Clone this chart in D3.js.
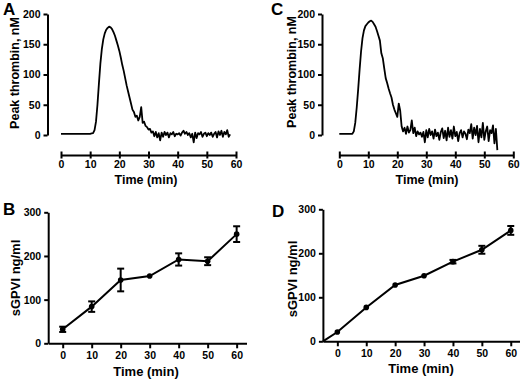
<!DOCTYPE html>
<html>
<head>
<meta charset="utf-8">
<script src="https://cdn.jsdelivr.net/npm/d3@7"></script>
<style>
  body { margin: 0; background: #fff; }
  svg text { font-family: "Liberation Sans", Arial, sans-serif; font-weight: bold; fill: #000; }
</style>
</head>
<body>
<svg id="chart" width="520" height="380"></svg>
<script>
// thrombin generation traces, sampled every 0.5 min
const sampleStep = 0.5;
const thrombinA = [
  2, 2, 2, 2, 2, 2, 2, 2, 2, 2, 2, 2, 2, 2, 2, 2, 2, 2, 2, 2, 2,
  2.5, 3, 8, 22, 50, 85, 118, 142, 158, 168, 174, 177, 179, 178, 175, 170,
  164, 156, 148, 139, 128, 116, 106, 94, 82, 72, 62, 52, 42, 38, 30, 32,
  24, 30, 46, 20, 22, 15, 13, 9, 10, 4,
  6, -2, 5, -4, 3, -9, 4, -3, 5, 0, 4, -4, 3, 1, 5, -2, 2, 1, 3, -1,
  4, 7, 2, 5, 0, 3, -4, 2, -12, 4, -5, 3, 1, 5, -3, 2, 4, -2, 3, 0,
  4, -3, 2, 5, -4, 6, 0, 7, -3, 5, 1, 8, -3, 1
];
const thrombinC = [
  2, 2, 2, 2, 2, 2, 2, 2, 2, 2,
  6, 20, 45, 75, 108, 138, 160, 173, 180, 183, 186, 188, 189, 187, 183, 179,
  172, 164, 156, 135, 127, 110, 94, 86, 77, 69, 62, 50, 42, 36, 30, 52, 40,
  14, 6, 12, 2, 14, 4, 8, 24, 3, 12, -2, 6, 1, 4, -3, 5, -12, 8, -4, 10,
  0, 6, -6, 9, -2, 4, -8, 5, 11, -5, 7, -9, 12, -3, 8, -6, 14, -2, 5, -10,
  3, 8, -4, 6, 2, -7, 9, 3, 18, -6, 12, 0, 15, -12, 10, -4, 20, -8, 6, 14,
  -10, 8, 3, 16, -14, 10, -25
];
const thrombinTicks = [0, 10, 20, 30, 40, 50, 60];
const thrombinYTicks = [0, 50, 100, 150, 200];

// sGPVI release
const bTime = [0, 10, 20, 30, 40, 50, 60];
const bMean = [32, 84, 145, 154, 192, 188, 250];
const bErr = [6, 12, 26, 2, 14, 9, 18];

const dTime = [-5, 0, 10, 20, 30, 40, 50, 60];
const dMean = [0, 21, 77, 128, 149, 181, 208, 252];
const dErr = [0, 2, 2, 2, 2, 4, 9, 10];

const timeTicks = [0, 10, 20, 30, 40, 50, 60];
const sgpviTicks = [0, 100, 200, 300];

const svg = d3.select("#chart");

function letter(txt, x, y) {
  svg.append("text").attr("x", x).attr("y", y)
    .attr("font-size", 17).text(txt);
}

function styleAxis(g) {
  g.select(".domain").attr("stroke", "#000").attr("stroke-width", 2);
  g.selectAll(".tick line").attr("stroke", "#000").attr("stroke-width", 2);
  g.selectAll(".tick text").attr("font-size", 10.5)
    .attr("font-family", "Liberation Sans, Arial, sans-serif")
    .attr("font-weight", "bold");
}

function tracePanel(p) {
  const x = d3.scaleLinear().domain([0, 60]).range([p.x0, p.x1]);
  const y = d3.scaleLinear().domain([0, 200]).range([135, 14]);

  const xg = svg.append("g").attr("transform", "translate(0,155)")
    .call(d3.axisBottom(x).tickValues(thrombinTicks).tickSize(7).tickSizeOuter(0).tickPadding(1));
  styleAxis(xg);
  xg.selectAll(".tick line").attr("y1", -3.5).attr("y2", 3.5);
  xg.selectAll(".tick text").attr("y", 6);

  const yg = svg.append("g").attr("transform", `translate(${p.axisX},0)`)
    .call(d3.axisLeft(y).tickValues(thrombinYTicks).tickSize(4).tickSizeOuter(0).tickPadding(3));
  styleAxis(yg);

  svg.append("path")
    .datum(p.data)
    .attr("fill", "none").attr("stroke", "#000").attr("stroke-width", 1.8)
    .attr("stroke-linejoin", "round")
    .attr("d", d3.line().x((d, i) => x(i * sampleStep)).y(d => y(d)));

  svg.append("text").attr("x", p.labelX).attr("y", 184)
    .attr("text-anchor", "middle").attr("font-size", 12.5).text("Time (min)");
  svg.append("text")
    .attr("transform", `translate(${p.yLabelX},${p.yLabelY}) rotate(-90)`)
    .attr("text-anchor", "middle").attr("dy", "0.35em")
    .attr("font-size", 12.5).text("Peak thrombin, nM");
}

function sgpviPanel(p) {
  const x = d3.scaleLinear().domain(p.xDomain).range([p.x0, p.x1]);
  const y = d3.scaleLinear().domain([0, 300]).range([p.y0, p.y1]);

  const xg = svg.append("g").attr("transform", `translate(0,${p.y0})`)
    .call(d3.axisBottom(x).tickValues(timeTicks).tickSize(5).tickSizeOuter(0).tickPadding(3));
  styleAxis(xg);

  const yg = svg.append("g").attr("transform", `translate(${p.x0},0)`)
    .call(d3.axisLeft(y).tickValues(sgpviTicks).tickSize(4).tickSizeOuter(0).tickPadding(3));
  styleAxis(yg);

  const pts = p.time.map((t, i) => ({t: t, m: p.mean[i], e: p.err[i]}));

  svg.append("path").datum(pts)
    .attr("fill", "none").attr("stroke", "#000").attr("stroke-width", 2)
    .attr("d", d3.line().x(d => x(d.t)).y(d => y(d.m)));

  const shown = pts.filter(d => d.t >= 0);
  const eb = svg.append("g").attr("stroke", "#000").attr("stroke-width", 2);
  eb.selectAll(".bar").data(shown.filter(d => d.e > 2)).join("line")
    .attr("x1", d => x(d.t)).attr("x2", d => x(d.t))
    .attr("y1", d => y(d.m - d.e)).attr("y2", d => y(d.m + d.e));
  eb.selectAll(".capTop").data(shown.filter(d => d.e > 2)).join("line")
    .attr("x1", d => x(d.t) - 3.5).attr("x2", d => x(d.t) + 3.5)
    .attr("y1", d => y(d.m + d.e)).attr("y2", d => y(d.m + d.e));
  eb.selectAll(".capBot").data(shown.filter(d => d.e > 2)).join("line")
    .attr("x1", d => x(d.t) - 3.5).attr("x2", d => x(d.t) + 3.5)
    .attr("y1", d => y(d.m - d.e)).attr("y2", d => y(d.m - d.e));

  svg.append("g").selectAll("circle").data(shown).join("circle")
    .attr("cx", d => x(d.t)).attr("cy", d => y(d.m)).attr("r", 2.8)
    .attr("fill", "#000");

  svg.append("text").attr("x", p.labelX).attr("y", p.labelY)
    .attr("text-anchor", "middle").attr("font-size", 13).text("Time (min)");
  svg.append("text")
    .attr("transform", `translate(${p.yLabelX},${p.yLabelY}) rotate(-90)`)
    .attr("text-anchor", "middle").attr("dy", "0.35em")
    .attr("font-size", 13).text("sGPVI ng/ml");
}

tracePanel({data: thrombinA, x0: 61, x1: 236, axisX: 47.5, labelX: 146, yLabelX: 15, yLabelY: 73});
tracePanel({data: thrombinC, x0: 339.3, x1: 513.3, axisX: 322, labelX: 427, yLabelX: 292, yLabelY: 72});

sgpviPanel({time: bTime, mean: bMean, err: bErr, xDomain: [-5, 63.4], x0: 48.2, x1: 246.5,
  y0: 343.3, y1: 212.3, labelX: 146, labelY: 376, yLabelX: 15, yLabelY: 278});
sgpviPanel({time: dTime, mean: dMean, err: dErr, xDomain: [-5, 63.2], x0: 322.9, x1: 520,
  y0: 341.3, y1: 209.3, labelX: 421, labelY: 373, yLabelX: 292, yLabelY: 279});

letter("A", 3, 15);
letter("C", 271, 15);
letter("B", 3, 215);
letter("D", 272, 217);
</script>
</body>
</html>
